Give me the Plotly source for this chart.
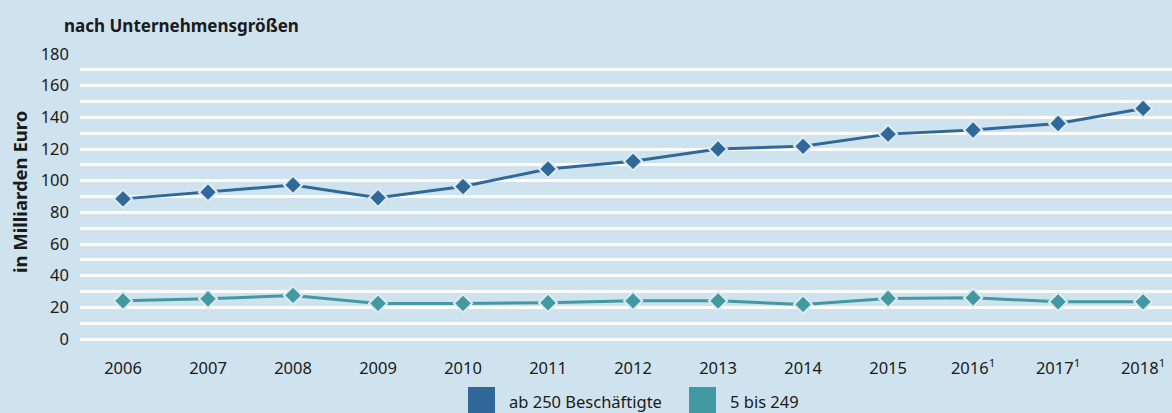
import plotly.graph_objects as go

years = ["2006", "2007", "2008", "2009", "2010", "2011", "2012", "2013", "2014", "2015", "2016", "2017", "2018"]
year_labels = ["2006", "2007", "2008", "2009", "2010", "2011", "2012", "2013", "2014", "2015",
               "2016<sup>1</sup>", "2017<sup>1</sup>", "2018<sup>1</sup>"]
series_names = ["ab 250 Beschäftigte", "5 bis 249"]
large = [88.5, 92.7, 97.3, 89.2, 96.3, 107.4, 112.2, 120.0, 121.7, 129.4, 132.0, 136.1, 145.6]
small = [24.1, 25.4, 27.5, 22.5, 22.5, 22.9, 24.1, 24.1, 21.8, 25.6, 26.0, 23.5, 23.5]
colors = ["#31689a", "#4299a2"]
y_ticks = [0, 20, 40, 60, 80, 100, 120, 140, 160, 180]

BG = "#cfe3ee"
FONT = "Noto Sans"
TXT = "#1a1a1a"

fig = go.Figure()
xs = list(range(len(years)))
for name, vals, col in zip(series_names, [large, small], colors):
    fig.add_trace(go.Scatter(
        x=xs, y=vals, name=name, mode="lines+markers",
        line=dict(color=col, width=3),
        marker=dict(symbol="diamond", size=14, color=col, line=dict(color="#dcebf3", width=2)),
        showlegend=False,
    ))

fig.update_layout(
    width=1172, height=413,
    paper_bgcolor=BG, plot_bgcolor=BG,
    margin=dict(l=80, r=0, t=54, b=74),
    font=dict(family=FONT, size=16.5, color=TXT),
    xaxis=dict(
        range=[-0.506, 12.34], tickmode="array", tickvals=xs, ticktext=year_labels,
        showgrid=False, zeroline=False, showline=False, ticks="",
        tickfont=dict(size=16.5, color=TXT), ticklabelstandoff=17,
    ),
    yaxis=dict(
        range=[0, 180], tickmode="array", tickvals=y_ticks,
        showgrid=True, gridcolor="white", gridwidth=3,
        minor=dict(dtick=10, showgrid=True, gridcolor="white", gridwidth=3),
        zeroline=True, zerolinecolor="white", zerolinewidth=3,
        showline=False, ticks="", ticklabelstandoff=10,
        tickfont=dict(size=16.5, color=TXT),
    ),
)

# title and axis title
fig.add_annotation(text="<b>nach Unternehmensgrößen</b>", xref="paper", yref="paper",
                   x=(62 - 80) / 1092, y=(339 - 26) / 285, xanchor="left", yanchor="middle",
                   showarrow=False, font=dict(size=17, color=TXT, family=FONT))
fig.add_annotation(text="<b>in Milliarden Euro</b>", xref="paper", yref="paper",
                   x=(19 - 80) / 1092, y=(339 - 192) / 285, xanchor="center", yanchor="middle",
                   textangle=-90, showarrow=False, font=dict(size=18.5, color=TXT, family=FONT))

# legend drawn manually
leg_items = [(468, series_names[0], colors[0]), (689, series_names[1], colors[1])]
for x0, name, col in leg_items:
    fig.add_shape(type="rect", xref="paper", yref="paper",
                  x0=(x0 - 80) / 1092, x1=(x0 + 27 - 80) / 1092,
                  y0=(339 - 414) / 285, y1=(339 - 387) / 285,
                  fillcolor=col, line=dict(width=0))
    fig.add_annotation(text=name, xref="paper", yref="paper",
                       x=(x0 + 39 - 80) / 1092, y=(339 - 401) / 285,
                       xanchor="left", yanchor="middle", showarrow=False,
                       font=dict(size=16.5, color=TXT, family=FONT))

fig.write_html("out.html", config={"displayModeBar": False},
               post_script="document.body.style.margin='0';document.body.style.overflow='hidden';")
